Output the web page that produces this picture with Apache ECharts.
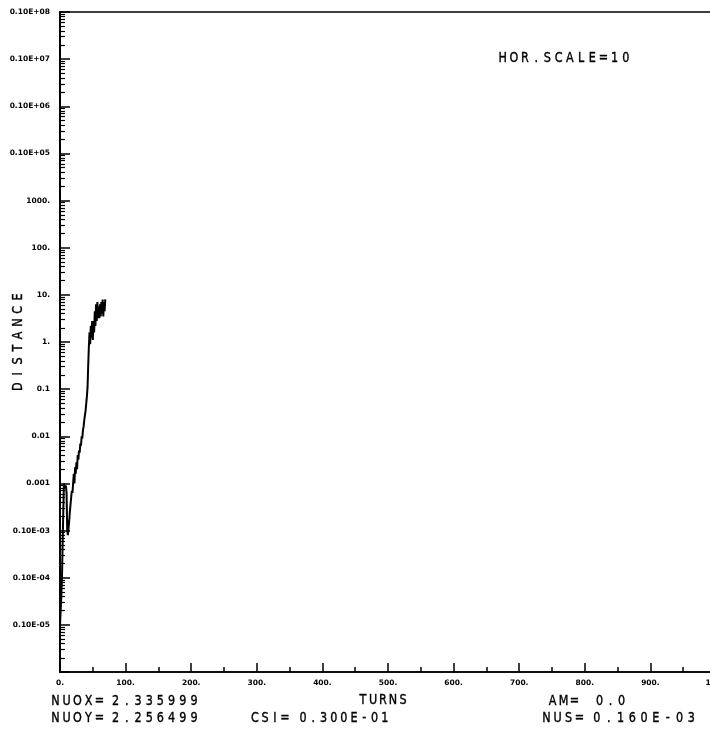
<!DOCTYPE html>
<html><head><meta charset="utf-8">
<script src="https://cdn.jsdelivr.net/npm/echarts@6/dist/echarts.min.js"></script>
<style>html,body{margin:0;padding:0;background:#fff}#c{width:710px;height:733px}</style>
</head><body><div id="c"></div>
<script>
// ---- data ----
const turns = [0,1,2,3,4,5,6,7,8,9,10,11,12,13,14,15,16,17,18,19,20,21,22,23,24,25,26,27,28,29,30,31,32,33,34,35,36,37,38,39,40,41,42,43,44,45,46,47,48,49,50,51,52,53,54,55,56,57,58,59,60,61,62,63,64,65,66,67,68,69];
const distance = [1.0e-6,2.0e-6,4.0e-6,1.0e-5,5.0e-5,2.5e-4,1.0e-3,9.0e-4,8.0e-4,9.0e-4,6.3e-4,1.0e-4,8.0e-5,1.1e-4,1.6e-4,2.5e-4,3.5e-4,5.0e-4,7.0e-4,6.3e-4,
  1.0e-3,1.6e-3,1.0e-3,2.2e-3,1.6e-3,2.8e-3,2.0e-3,4.0e-3,3.2e-3,5.0e-3,4.5e-3,7.0e-3,6.3e-3,1.0e-2,9.0e-3,1.35e-2,1.6e-2,2.2e-2,2.8e-2,3.5e-2,
  5.0e-2,7.0e-2,0.11,0.32,0.8,1.6,0.9,2.2,1.25,2.8,1.1,2.8,1.6,4.5,2.2,6.3,2.8,7.0,3.2,5.6,3.2,6.3,3.5,7.0,4.0,8.0,3.5,7.0,4.5,8.0];

// y tick labels keyed by decade exponent
const yTickLabels = {
  '7':'0.10E+08','6':'0.10E+07','5':'0.10E+06','4':'0.10E+05','3':'1000.','2':'100.','1':'10.','0':'1.',
  '-1':'0.1','-2':'0.01','-3':'0.001','-4':'0.10E-03','-5':'0.10E-04','-6':'0.10E-05','-7':''
};
const yDecades = [-7,-6,-5,-4,-3,-2,-1,0,1,2,3,4,5,6];
const yMinorMultipliers = [2,3,4,5,6,7,8,9];
const xTickLabels = ['0.','100.','200.','300.','400.','500.','600.','700.','800.','900.','1000'];

// minor tick positions expressed as decade exponents (for a linear helper axis)
const yMinorExponents = [];
yDecades.forEach(d => yMinorMultipliers.forEach(m => yMinorExponents.push(d + Math.log10(m))));

// ---- text helpers (plotter-style spaced characters) ----
const FONT = 'DejaVu Sans';
function spaced(str, x, y, adv, size, sx) {
  return str.split('').map((ch, i) => ({
    type: 'text', x: x + i * adv + adv / 2, y: y, scaleX: sx || 0.8,
    style: { text: ch, fontSize: size, fontFamily: FONT, fill: '#000', stroke: '#000', lineWidth: 0.4, align: 'center', verticalAlign: 'middle' }
  }));
}
function spacedVertical(str, x, yBottom, adv, size) {
  return str.split('').map((ch, i) => ({
    type: 'text', x: x, y: yBottom - i * adv - adv / 2, rotation: Math.PI / 2, scaleX: 0.8,
    style: { text: ch, fontSize: size, fontFamily: FONT, fill: '#000', stroke: '#000', lineWidth: 0.4, align: 'center', verticalAlign: 'middle' }
  }));
}

const graphics = [].concat(
  spaced('HOR.SCALE=10', 497, 58, 11.2, 14),
  spaced('NUOX=', 50, 701, 11, 14),
  spaced('2.335999', 110, 701, 11.2, 14),
  spaced('NUOY=', 50, 718, 11, 14),
  spaced('2.256499', 110, 718, 11.2, 14),
  spaced('CSI=', 250, 718, 10, 14),
  spaced('0.300E-01', 298, 718, 10.2, 14),
  spaced('TURNS', 358, 700, 10, 14),
  spaced('AM=', 547, 701, 11, 14),
  spaced('0.0', 594, 701, 11, 14),
  spaced('NUS=', 541, 718, 11, 14),
  spaced('0.160E-03', 591, 718, 11.8, 14),
  spacedVertical('DISTANCE', 18, 393, 12.8, 14)
);

const chart = echarts.init(document.getElementById('c'), null, { renderer: 'canvas' });
chart.setOption({
  animation: false,
  backgroundColor: '#fff',
  grid: { left: 60, right: -6, top: 12, bottom: 61, show: true, borderColor: '#000', borderWidth: 1.5,
          containLabel: false, outerBoundsMode: 'none' },
  xAxis: {
    type: 'value', min: 0, max: 1000, interval: 100,
    axisLine: { show: true, onZero: false, lineStyle: { color: '#000', width: 1.5 } },
    axisTick: { show: true, inside: true, length: 9, lineStyle: { color: '#000', width: 1.5 } },
    minorTick: { show: true, splitNumber: 2, length: 5, lineStyle: { color: '#000', width: 1.5 } },
    splitLine: { show: false },
    axisLabel: {
      show: true, margin: 7, color: '#000', fontSize: 7.5, fontWeight: 'bold', fontFamily: FONT,
      hideOverlap: false,
      formatter: v => xTickLabels[Math.round(v / 100)] || ''
    }
  },
  yAxis: [{
    type: 'log', logBase: 10, min: 1e-7, max: 1e7, interval: 1,
    axisLine: { show: true, onZero: false, lineStyle: { color: '#000', width: 2 } },
    axisTick: { show: true, inside: true, length: 10, lineStyle: { color: '#000', width: 1.5 } },
    splitLine: { show: false },
    axisLabel: {
      show: true, margin: 10, color: '#000', fontSize: 7.5, fontWeight: 'bold', fontFamily: FONT,
      formatter: v => { const e = Math.round(Math.log10(v)); return yTickLabels[String(e)] || ''; }
    }
  }, {
    type: 'value', min: -7, max: 7, position: 'left', offset: 0,
    axisLine: { show: false },
    axisTick: { show: true, inside: true, length: 5, customValues: yMinorExponents, lineStyle: { color: '#000', width: 1.2 } },
    axisLabel: { show: false },
    splitLine: { show: false }
  }],
  series: [{
    type: 'line', xAxisIndex: 0, yAxisIndex: 0,
    data: turns.map((t, i) => [t, distance[i]]),
    showSymbol: false, symbol: 'none',
    lineStyle: { color: '#000', width: 2 },
    clip: false
  }],
  graphic: graphics
});
</script>
</body></html>
